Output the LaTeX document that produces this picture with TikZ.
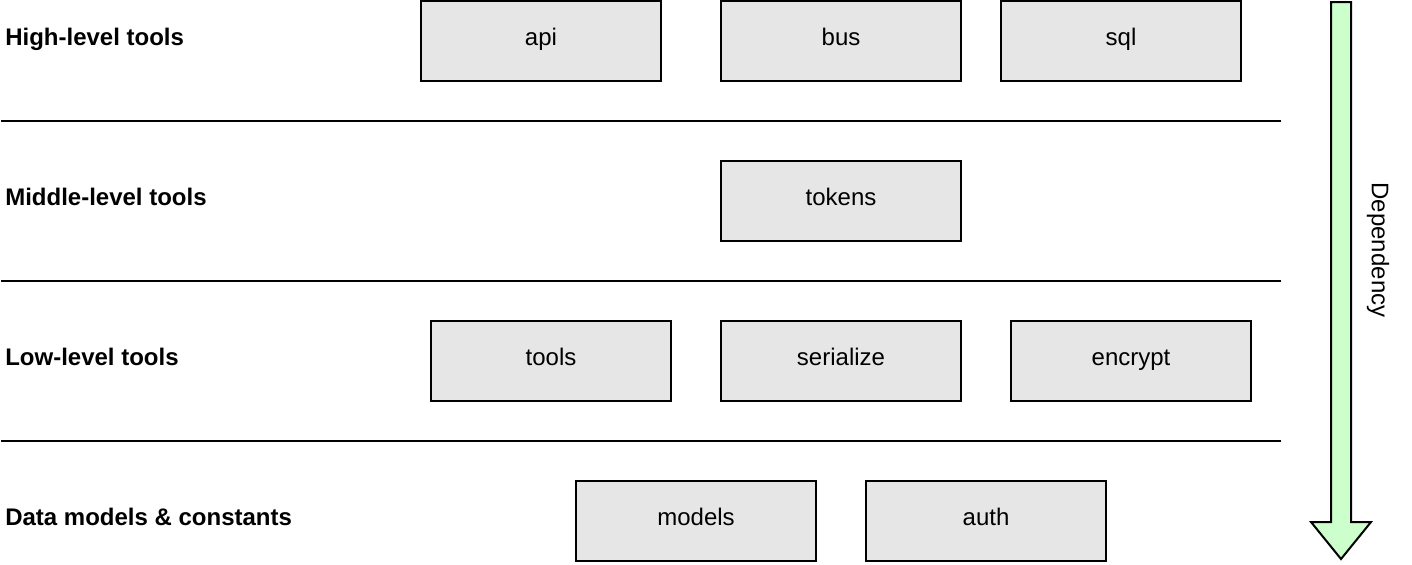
\documentclass[tikz,border=0pt]{standalone}
\usepackage{fontspec}
\setmainfont{Liberation Sans}
\usetikzlibrary{positioning,calc}
\definecolor{BoxGray}{RGB}{230,230,230}
\definecolor{ArrowGreen}{RGB}{204,255,204}

\begin{document}
\begin{tikzpicture}[x=0.75pt,y=-0.75pt,
  module/.style={draw=black,fill=BoxGray,line width=1.5pt,minimum width=180pt,minimum height=60pt,inner sep=0pt,text height=10pt,text depth=4pt,font=\fontsize{18}{21}\selectfont},
  layername/.style={anchor=west,inner sep=0pt,text height=13pt,text depth=4pt,font=\fontsize{18}{21}\selectfont\bfseries},
  divider/.style={black,line width=1.5pt},
  deparrow/.style={draw=black,fill=ArrowGreen,line width=1.5pt,line join=miter}]
\useasboundingbox (0,0) rectangle (1412,564);
% layer names
\node[layername] (high) at (5,39) {High-level tools};
\node[layername] (middle) at (5,199) {Middle-level tools};
\node[layername] (low) at (5,359) {Low-level tools};
\node[layername] (data) at (5,519) {Data models \& constants};
% dividers
\foreach \y in {121,281,441}
  \draw[divider] (1,\y)--(1281,\y);
% modules
\node[module] (api) at (541,41) {api};
\node[module] (bus) at (841,41) {bus};
\node[module] (sql) at (1121,41) {sql};
\node[module] (tokens) at (841,201) {tokens};
\node[module] (tools) at (551,361) {tools};
\node[module] (serialize) at (841,361) {serialize};
\node[module] (encrypt) at (1131,361) {encrypt};
\node[module] (models) at (696,521) {models};
\node[module] (auth) at (986,521) {auth};
% dependency arrow
\draw[deparrow] (1331,2)--(1351,2)--(1351,522)--(1371,522)--(1341,559)--(1311,522)--(1331,522)--cycle;
\node[rotate=-90,font=\fontsize{18}{21}\selectfont] (dep) at (1378,250) {Dependency};
\end{tikzpicture}
\end{document}
